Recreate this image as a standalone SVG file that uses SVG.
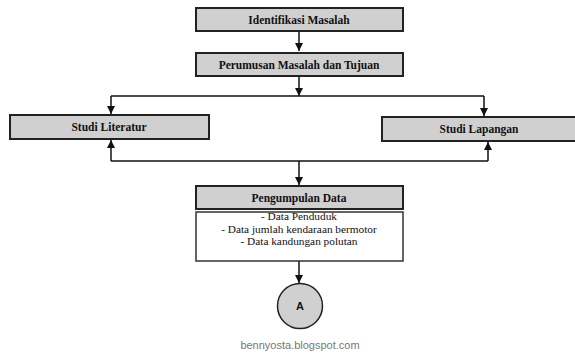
<svg xmlns="http://www.w3.org/2000/svg" width="575" height="353" viewBox="0 0 575 353">
<defs>
<marker id="ah" viewBox="0 0 10 10" refX="10" refY="5" markerWidth="8" markerHeight="8" markerUnits="userSpaceOnUse" orient="auto">
<path d="M0,0 L10,5 L0,10 z" fill="#111"/>
</marker>
<style>
.box{fill:#d0d0d0;stroke:#222;stroke-width:2}
.wbox{fill:#fff;stroke:#333;stroke-width:1.5}
.t{font-family:"Liberation Serif","Times New Roman",serif;font-size:11.5px;font-weight:bold;fill:#111;text-anchor:middle}
.r{font-family:"Liberation Serif","Times New Roman",serif;font-size:11.3px;fill:#111;text-anchor:middle}
.c{fill:none;stroke:#111;stroke-width:1.5}
</style>
</defs>
<rect width="575" height="353" fill="#fff"/>
<g id="connectors">
<path class="c" d="M299,31 V51" marker-end="url(#ah)"/>
<path class="c" d="M299,76 V96" marker-end="url(#ah)"/>
<path class="c" d="M111,96 H484"/>
<path class="c" d="M111,96 V114" marker-end="url(#ah)"/>
<path class="c" d="M484,96 V116" marker-end="url(#ah)"/>
<path class="c" d="M111,161 H488"/>
<path class="c" d="M111,161 V140" marker-end="url(#ah)"/>
<path class="c" d="M488,161 V142" marker-end="url(#ah)"/>
<path class="c" d="M299,161 V185" marker-end="url(#ah)"/>
<path class="c" d="M299,261 V283" marker-end="url(#ah)"/>
</g>
<g id="n1"><rect class="box" x="196" y="8" width="207" height="23"/><text class="t" x="299" y="23.5">Identifikasi Masalah</text></g>
<g id="n2"><rect class="box" x="196" y="53" width="207" height="23"/><text class="t" x="299" y="68.5">Perumusan Masalah dan Tujuan</text></g>
<g id="n3"><rect class="box" x="10" y="115" width="199" height="24"/><text class="t" x="109" y="131">Studi Literatur</text></g>
<g id="n4"><rect class="box" x="382" y="117" width="194" height="24"/><text class="t" x="479" y="133">Studi Lapangan</text></g>
<g id="n5"><rect class="box" x="196" y="186" width="207" height="23"/><text class="t" x="299" y="201.5">Pengumpulan Data</text></g>
<g id="n6"><rect class="wbox" x="196" y="212" width="207" height="49"/>
<text class="r" x="299" y="220">- Data Penduduk</text>
<text class="r" x="299" y="232.5">- Data jumlah kendaraan bermotor</text>
<text class="r" x="299" y="245">- Data kandungan polutan</text></g>
<g id="n7"><circle cx="300" cy="306" r="22.5" fill="#d0d0d0" stroke="#222" stroke-width="1.5"/><text x="300" y="310" font-family="Liberation Sans,Arial,sans-serif" font-size="11" font-weight="bold" text-anchor="middle" fill="#111">A</text></g>
<text x="300" y="349" font-family="Liberation Sans,Arial,sans-serif" font-size="11" text-anchor="middle" fill="#777">bennyosta.blogspot.com</text>
</svg>
